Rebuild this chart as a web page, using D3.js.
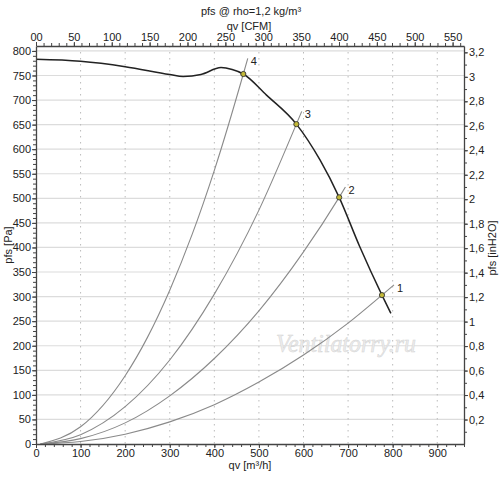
<!DOCTYPE html>
<html>
<head>
<meta charset="utf-8">
<script src="https://cdn.jsdelivr.net/npm/d3@7/dist/d3.min.js"></script>
<style>
  body { margin: 0; background: #fff; }
  text { font-family: "Liberation Sans", Arial, sans-serif; fill: #222; }
</style>
</head>
<body>
<div class="canvas"></div>
<script>
// fan curve (m3/h, Pa)
const fanQ = [0, 100, 200, 300, 330, 370, 415, 440, 465, 517, 584, 637, 680, 726, 776, 796];
const fanP = [783, 779, 768, 752, 748, 752, 766, 762, 753, 710, 651, 578, 502, 402, 303, 266];

// system curves 1..4 (m3/h, Pa)
const sys1Q = [10, 100, 200, 300, 400, 500, 600, 700, 776, 803];
const sys1P = [0, 5, 20, 45, 80, 126, 181, 246, 303, 324];
const sys2Q = [10, 100, 200, 300, 400, 500, 600, 680, 694];
const sys2P = [0, 11, 43, 98, 174, 271, 391, 502, 523];
const sys3Q = [10, 100, 200, 300, 400, 500, 584, 596];
const sys3P = [0, 19, 76, 171, 305, 476, 651, 677];
const sys4Q = [10, 100, 200, 250, 300, 350, 400, 465, 475];
const sys4P = [0, 35, 139, 217, 313, 426, 557, 753, 785];

// operating points
const opNames = ['1', '2', '3', '4'];
const opQ = [776, 680, 584, 465];
const opP = [303, 502, 651, 753];

const paTicks = d3.range(0, 801, 50);
const inTicks = d3.range(1, 17).map(d => d * 0.2);
const m3hTicks = d3.range(0, 901, 100);
const cfmTicks = d3.range(0, 551, 50);

const dims = {width: 500, height: 483};
const m = {left: 36, right: 464, top: 46, bottom: 444};

const svg = d3.select('.canvas')
  .append('svg')
    .attr('width', dims.width)
    .attr('height', dims.height);

const x = d3.scaleLinear().domain([0, 960]).range([m.left, m.right]);
const y = d3.scaleLinear().domain([0, 810]).range([m.bottom, m.top]);
const xCfm = d3.scaleLinear().domain([0, 960 / 1.699]).range([m.left, m.right]);
const yIn = d3.scaleLinear().domain([0, 810 / 249.09]).range([m.bottom, m.top]);

// grid
svg.append('g').selectAll('line')
  .data(paTicks.filter(d => d > 0))
  .enter().append('line')
    .attr('x1', m.left).attr('x2', m.right)
    .attr('y1', d => y(d)).attr('y2', d => y(d))
    .attr('stroke', '#dcdcdc').attr('stroke-width', 1.2);

svg.append('g').selectAll('line')
  .data(m3hTicks.filter(d => d > 0))
  .enter().append('line')
    .attr('x1', d => x(d)).attr('x2', d => x(d))
    .attr('y1', m.top).attr('y2', m.bottom)
    .attr('stroke', '#bbb').attr('stroke-dasharray', '1.5,4.5');

// watermark
svg.append('text')
  .attr('x', 276).attr('y', 352)
  .attr('textLength', 140).attr('lengthAdjust', 'spacingAndGlyphs')
  .style('font-family', '"Liberation Serif", serif')
  .style('font-style', 'italic')
  .style('font-size', '25px')
  .style('fill', '#ececec')
  .style('stroke', '#d4d4d4').style('stroke-width', 0.5)
  .text('Ventilatorry.ru');

const line = (qs, ps, curve) => d3.line()
  .x(i => x(qs[i])).y(i => y(ps[i]))
  .curve(curve)(d3.range(qs.length));

// system curves
const sysQ = [sys1Q, sys2Q, sys3Q, sys4Q];
const sysP = [sys1P, sys2P, sys3P, sys4P];
sysQ.forEach((qs, k) => {
  svg.append('path')
    .attr('d', line(qs, sysP[k], d3.curveMonotoneX))
    .attr('fill', 'none')
    .attr('stroke', '#8a8a8a')
    .attr('stroke-width', 1.1);
  const n = qs.length - 1;
  svg.append('text')
    .attr('x', x(qs[n]) + 3).attr('y', y(sysP[k][n]) + 7)
    .style('font-size', '11px')
    .text(opNames[k]);
});

// fan curve
svg.append('path')
  .attr('d', line(fanQ, fanP, d3.curveMonotoneX))
  .attr('fill', 'none')
  .attr('stroke', '#222')
  .attr('stroke-width', 1.5);

// operating points
svg.append('g').selectAll('circle')
  .data(opQ)
  .enter().append('circle')
    .attr('cx', d => x(d))
    .attr('cy', (d, i) => y(opP[i]))
    .attr('r', 2.6)
    .attr('fill', '#c2b838')
    .attr('stroke', '#333')
    .attr('stroke-width', 0.9);

// axes
const fmt = d => String(+d.toFixed(1)).replace('.', ',');

const styleAxis = (g) => {
  g.selectAll('path').attr('stroke', '#444').attr('stroke-width', 1.3);
  g.selectAll('line').attr('stroke', '#444');
  g.selectAll('text').style('font-size', '11px').attr('fill', '#222');
};

const minorAxis = (axis, scale, vals, tr) => {
  const g = svg.append('g').attr('transform', tr)
    .call(axis(scale).tickValues(vals).tickSize(3).tickFormat(''));
  g.select('path').remove();
  g.selectAll('line').attr('stroke', '#444');
};

minorAxis(d3.axisLeft, y, d3.range(0, 801, 10), `translate(${m.left},0)`);
minorAxis(d3.axisBottom, x, d3.range(0, 961, 20), `translate(0,${m.bottom})`);
minorAxis(d3.axisTop, xCfm, d3.range(0, 561, 10), `translate(0,${m.top})`);
minorAxis(d3.axisRight, yIn, d3.range(1, 33).map(d => d * 0.1), `translate(${m.right},0)`);

svg.append('g')
  .attr('transform', `translate(${m.left},0)`)
  .call(d3.axisLeft(y).tickValues(paTicks).tickSize(4).tickSizeOuter(0).tickPadding(1))
  .call(styleAxis);

svg.append('g')
  .attr('transform', `translate(${m.right},0)`)
  .call(d3.axisRight(yIn).tickValues(inTicks).tickFormat(fmt).tickSize(4).tickSizeOuter(0).tickPadding(1))
  .call(styleAxis);

svg.append('g')
  .attr('transform', `translate(0,${m.bottom})`)
  .call(d3.axisBottom(x).tickValues(m3hTicks).tickSize(4).tickSizeOuter(0).tickPadding(1))
  .call(styleAxis);

svg.append('g')
  .attr('transform', `translate(0,${m.top})`)
  .call(d3.axisTop(xCfm).tickValues(cfmTicks).tickFormat(d => d === 0 ? '00' : d).tickSize(4).tickSizeOuter(0).tickPadding(1))
  .call(styleAxis);

// titles
const label = (tx, ty, txt, rot) => svg.append('text')
  .attr('transform', `translate(${tx},${ty})` + (rot ? ' rotate(-90)' : ''))
  .attr('text-anchor', 'middle')
  .style('font-size', '11px')
  .text(txt);

label(251, 15, 'pfs @ rho=1,2 kg/m³');
label(249, 30, 'qv [CFM]');
label(250, 469, 'qv [m³/h]');
label(12, 245, 'pfs [Pa]', true);
label(496, 248, 'pfs [inH2O]', true);
</script>
</body>
</html>
